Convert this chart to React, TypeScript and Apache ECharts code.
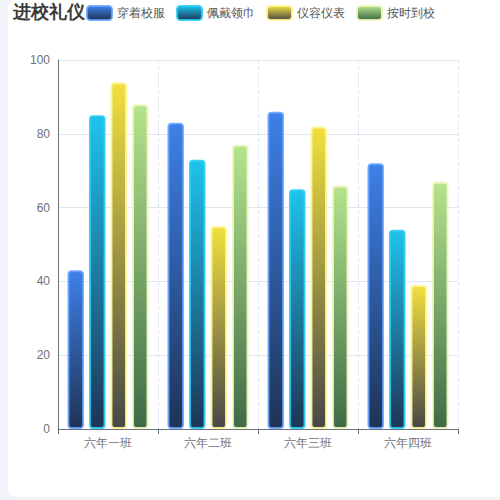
import { useEffect, useRef } from "react"
import * as echarts from "echarts"

const classes = ["六年一班", "六年二班", "六年三班", "六年四班"]
const seriesNames = ["穿着校服", "佩戴领巾", "仪容仪表", "按时到校"]
const uniformValues = [43, 83, 86, 72]
const scarfValues = [85, 73, 65, 54]
const lookValues = [94, 55, 82, 39]
const onTimeValues = [88, 77, 66, 67]

// top colour, bottom colour, border colour per series
const palette = [
  ["#3d80e8", "#1e3355", "rgba(100,160,255,0.85)"],
  ["#1ec3ec", "#1d3556", "rgba(40,205,245,0.9)"],
  ["#f2e03e", "#474747", "rgba(255,245,150,0.9)"],
  ["#b4e48c", "#3e6b46", "rgba(240,245,190,0.9)"],
]

export default function App() {
  const chartRef = useRef<HTMLDivElement>(null)

  useEffect(() => {
    document.body.style.margin = "0"
    if (!chartRef.current) return
    const chart = echarts.init(chartRef.current, null, { renderer: "svg" })
    const values = [uniformValues, scarfValues, lookValues, onTimeValues]

    const option: echarts.EChartsOption = {
      animation: false,
      title: {
        text: "进校礼仪",
        left: 13,
        top: 3,
        padding: 0,
        textStyle: { fontSize: 18, fontWeight: "bold", color: "#3a3a3a" },
      },
      legend: {
        left: 86,
        top: 5,
        padding: 0,
        itemWidth: 25,
        itemHeight: 14,
        itemGap: 11,
        icon: "roundRect",
        textStyle: { fontSize: 12, color: "#555" },
        data: seriesNames,
      },
      grid: { left: 58, right: 42, top: 60, bottom: 71 },
      xAxis: {
        type: "category",
        data: classes,
        axisLine: { lineStyle: { color: "#6e7079" } },
        axisTick: { show: true, length: 5 },
        axisLabel: { color: "#6e7079", fontSize: 12 },
        splitLine: { show: true, lineStyle: { type: "dashed", color: "#dfe4f0" } },
      },
      yAxis: {
        type: "value",
        min: 0,
        max: 100,
        interval: 20,
        axisLine: { show: true, lineStyle: { color: "#6e7079" } },
        axisTick: { show: false },
        axisLabel: { color: "#6e7079", fontSize: 12 },
        splitLine: { lineStyle: { color: "#e0e6f1" } },
      },
      series: seriesNames.map((name, i) => ({
        name,
        type: "bar" as const,
        data: values[i],
        barCategoryGap: "19%",
        barGap: "30%",
        itemStyle: {
          borderRadius: 3,
          borderWidth: 2,
          borderColor: palette[i][2],
          color: new echarts.graphic.LinearGradient(0, 0, 0, 1, [
            { offset: 0, color: palette[i][0] },
            { offset: 1, color: palette[i][1] },
          ]),
        },
      })),
    }

    chart.setOption(option)
    return () => chart.dispose()
  }, [])

  return (
    <div style={{ position: "relative", width: 500, height: 500, background: "#f2f3f8", overflow: "hidden" }}>
      <div
        style={{
          position: "absolute",
          left: 8,
          top: 0,
          width: 520,
          height: 497,
          background: "#fff",
          borderRadius: 8,
        }}
      />
      <div ref={chartRef} style={{ position: "absolute", left: 0, top: 0, width: 500, height: 500 }} />
    </div>
  )
}
